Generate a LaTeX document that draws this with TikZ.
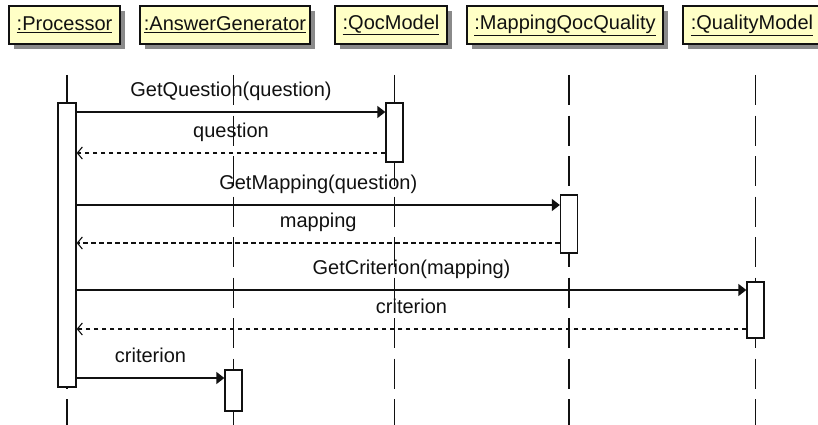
\documentclass[tikz,border=0pt]{standalone}
\usepackage{fontspec}
\setmainfont{Liberation Sans}
\usetikzlibrary{arrows.meta,shadows}
\definecolor{ink}{HTML}{111111}
\definecolor{headfill}{HTML}{FFFFC6}
\definecolor{shadowgray}{HTML}{8A8A8A}
\tikzset{
  every node/.style={font=\fontsize{20}{24}\selectfont, text=ink},
  head/.style={draw=ink, line width=1.6pt, fill=headfill, minimum height=38pt, inner sep=0pt, drop shadow={shadow xshift=5pt, shadow yshift=-5pt, fill=shadowgray, opacity=1}},
  act/.style={draw=ink, line width=1.3pt, fill=white, minimum width=17pt, inner sep=0pt},
  lifeline/.style={draw=ink, line width=1.4pt, dash pattern=on 30pt off 10.5pt},
  call/.style={-{Triangle[length=8pt,width=12pt]}, line width=1.4pt, draw=ink},
  reply/.style={-{Straight Barb[length=5pt,width=12pt]}, line width=1.1pt, draw=ink, dash pattern=on 4.5pt off 3.5pt},
  msg/.style={anchor=base, yshift=15.5pt, inner sep=0pt},
}
\begin{document}
\begin{tikzpicture}[x=1pt,y=-1pt]
\useasboundingbox (0,0) rectangle (818,425);
\node[head, minimum width=111pt] (hP) at (64.5,25) {\underline{:Processor}};
\node[head, minimum width=170pt] (hA) at (225,25) {\underline{:AnswerGenerator}};
\node[head, minimum width=112pt] (hQ) at (391,25) {\underline{:QocModel}};
\node[head, minimum width=196pt] (hM) at (565,25) {\underline{:MappingQocQuality}};
\node[head, minimum width=138pt] (hR) at (752,25) {\underline{:QualityModel}};
\foreach \n/\x in {P/67, A/233.5, Q/394.5, M/569, R/755.5}{
  \coordinate (\n-top) at (\x,75); \coordinate (\n-end) at (\x,425);
  \draw[lifeline] (\n-top) -- (\n-end);
}
\node[act, minimum width=18pt, minimum height=284pt] (aP) at (67,245) {};
\node[act, minimum height=41pt] (aA) at (233.5,390.5) {};
\node[act, minimum height=59pt] (aQ) at (394.5,132.5) {};
\node[act, minimum height=58pt] (aM) at (569,224) {};
\node[act, minimum height=56pt] (aR) at (755.5,310) {};
\foreach \i/\y in {1/112, 2/153, 3/205, 4/243, 5/290, 6/329, 7/378} \coordinate (y\i) at (0,\y);
\draw[call] (aP.east |- y1) -- node[msg]{GetQuestion(question)} (aQ.west |- y1);
\draw[reply] (aQ.west |- y2) -- node[msg]{question} (aP.east |- y2);
\draw[call] (aP.east |- y3) -- node[msg]{GetMapping(question)} (aM.west |- y3);
\draw[reply] (aM.west |- y4) -- node[msg]{mapping} (aP.east |- y4);
\draw[call] (aP.east |- y5) -- node[msg]{GetCriterion(mapping)} (aR.west |- y5);
\draw[reply] (aR.west |- y6) -- node[msg]{criterion} (aP.east |- y6);
\draw[call] (aP.east |- y7) -- node[msg]{criterion} (aA.west |- y7);
\end{tikzpicture}
\end{document}
